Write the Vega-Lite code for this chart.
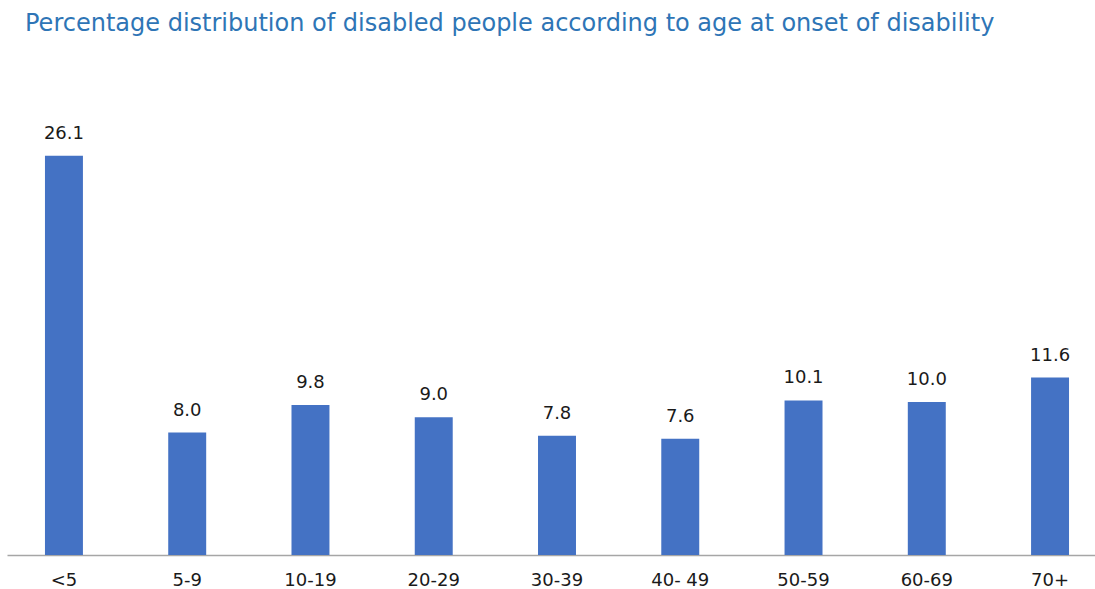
{
  "$schema": "https://vega.github.io/schema/vega-lite/v6.json",
  "autosize": {"type": "none"},
  "width": 1088,
  "height": 459,
  "padding": {"left": 7, "top": 96, "right": 0, "bottom": 34},
  "background": "#ffffff",
  "title": {
    "text": "Percentage distribution of disabled people according to age at onset of disability",
    "anchor": "start",
    "frame": "group",
    "dx": 18,
    "offset": 41,
    "baseline": "alphabetic",
    "font": "DejaVu Sans",
    "fontSize": 24,
    "fontWeight": "normal",
    "color": "#2E75B6"
  },
  "data": {
    "values": [
      {"age": "<5", "pct": 26.1},
      {"age": "5-9", "pct": 8.0},
      {"age": "10-19", "pct": 9.8},
      {"age": "20-29", "pct": 9.0},
      {"age": "30-39", "pct": 7.8},
      {"age": "40- 49", "pct": 7.6},
      {"age": "50-59", "pct": 10.1},
      {"age": "60-69", "pct": 10.0},
      {"age": "70+", "pct": 11.6}
    ]
  },
  "encoding": {
    "x": {
      "field": "age",
      "type": "nominal",
      "sort": null,
      "scale": {"paddingInner": 0.692, "paddingOuter": 0.308, "range": [0, 1100]},
      "axis": {
        "title": null,
        "labelAngle": 0,
        "ticks": false,
        "domainColor": "#a6a6a6",
        "domainWidth": 1.5,
        "labelFont": "DejaVu Sans",
        "labelFontSize": 18,
        "labelColor": "#1a1a1a",
        "labelPadding": 16
      }
    },
    "y": {
      "field": "pct",
      "type": "quantitative",
      "scale": {"domain": [0, 30], "nice": false},
      "axis": null
    }
  },
  "layer": [
    {"mark": {"type": "bar", "color": "#4472C4"}},
    {
      "mark": {"type": "text", "baseline": "bottom", "dy": -13, "font": "DejaVu Sans", "fontSize": 18, "color": "#1a1a1a"},
      "encoding": {"text": {"field": "pct", "type": "quantitative", "format": ".1f"}}
    }
  ],
  "config": {"view": {"stroke": null}}
}
